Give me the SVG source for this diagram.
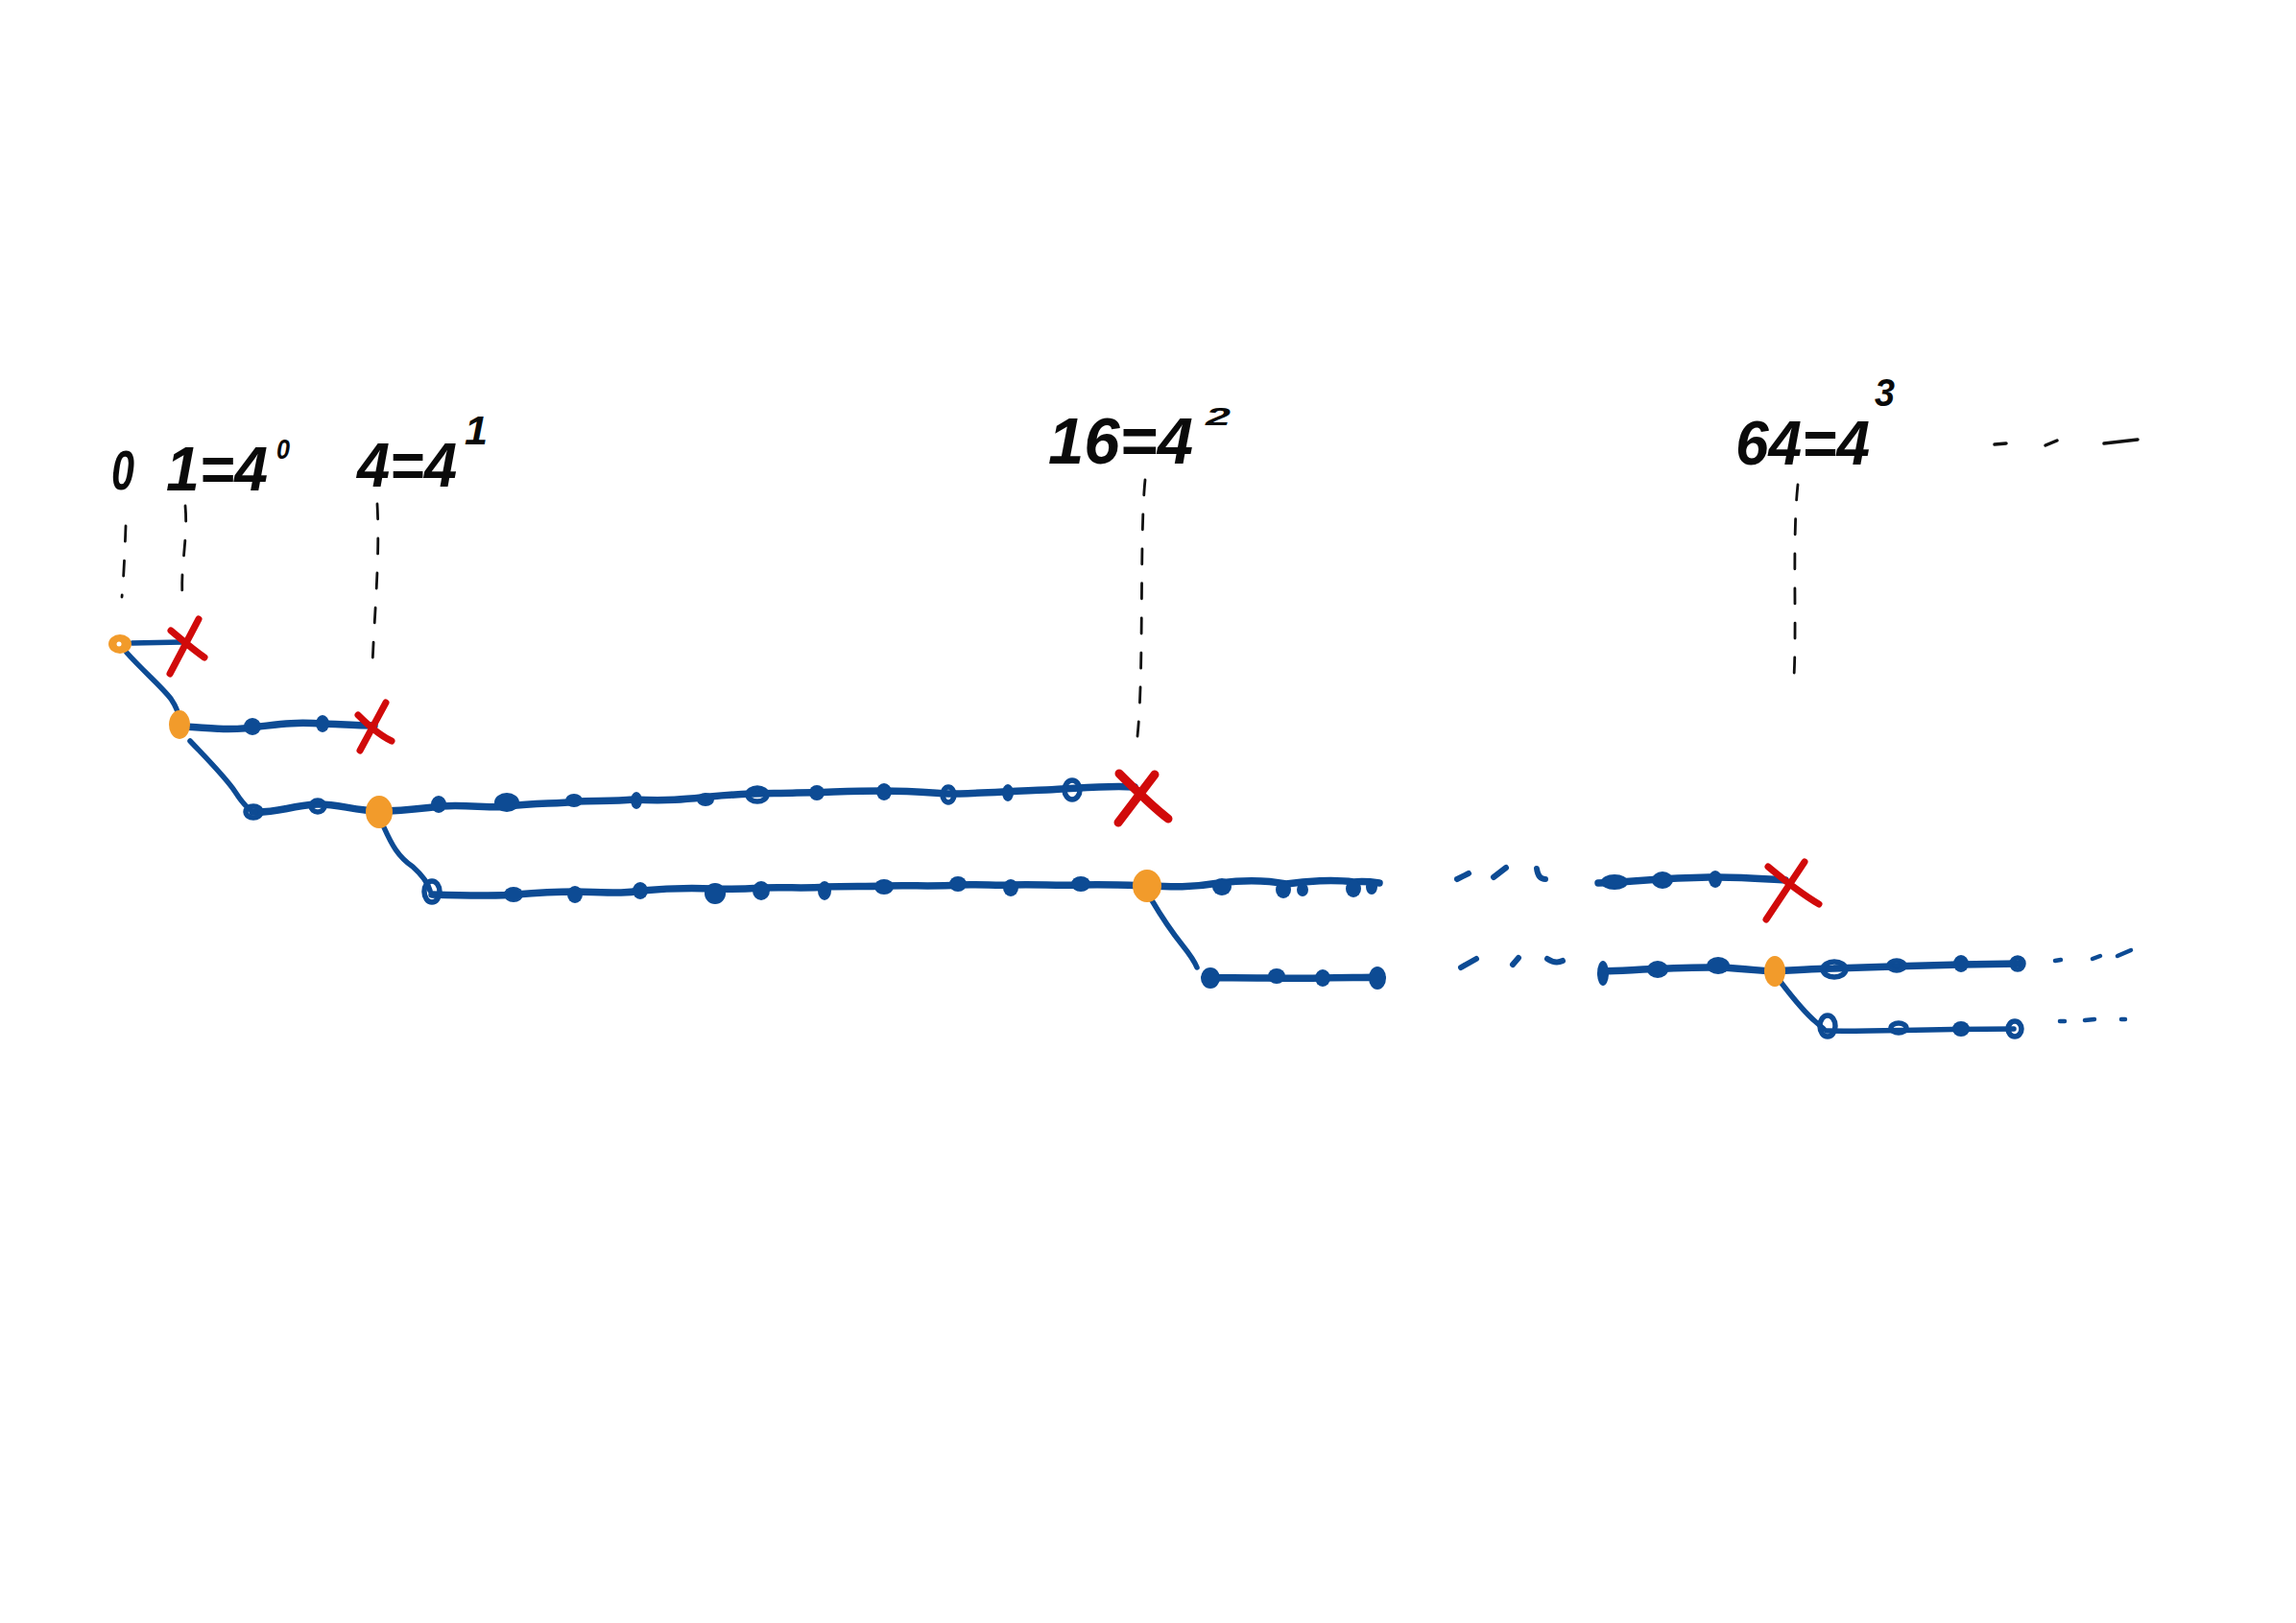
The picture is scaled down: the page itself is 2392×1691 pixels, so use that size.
<svg xmlns="http://www.w3.org/2000/svg" width="2392" height="1691" viewBox="0 0 2392 1691">
<style>
.bg{fill:#ffffff}
.ln{fill:none;stroke:#0d4b94;stroke-width:7.5;stroke-linecap:round;stroke-linejoin:round}
.thin{stroke-width:5.5}
.dot{fill:#0d4b94}
.loop{fill:none;stroke:#0d4b94;stroke-width:5.5}
.mark{fill:none;stroke:#0d4b94;stroke-width:6;stroke-linecap:round}
.org{fill:#f29b2b}
.x{fill:none;stroke:#d10a0a;stroke-width:7;stroke-linecap:round}
.guide{fill:none;stroke:#111111;stroke-width:2.8;stroke-dasharray:16 20;stroke-linecap:round}
.dash{fill:none;stroke:#111111;stroke-width:3.5;stroke-linecap:round}
.lbl{font-family:"Liberation Sans",Arial,sans-serif;fill:#0a0a0a;font-style:italic;font-weight:bold}
</style>
<rect class="bg" x="0" y="0" width="2392" height="1691"/>

<g id="labels">
  <text id="label-0" class="lbl" x="116" y="510" font-size="58" textLength="24" lengthAdjust="spacingAndGlyphs">0</text>
  <text id="label-1" class="lbl"><tspan x="173" y="511" font-size="64" textLength="106" lengthAdjust="spacingAndGlyphs">1=4</tspan><tspan x="288" y="478" font-size="30" textLength="14" lengthAdjust="spacingAndGlyphs">0</tspan></text>
  <text id="label-4" class="lbl"><tspan x="372" y="507" font-size="64" textLength="104" lengthAdjust="spacingAndGlyphs">4=4</tspan><tspan x="484" y="463" font-size="42" textLength="24" lengthAdjust="spacingAndGlyphs">1</tspan></text>
  <text id="label-16" class="lbl"><tspan x="1092" y="483" font-size="68" textLength="151" lengthAdjust="spacingAndGlyphs">16=4</tspan><tspan x="1256" y="443" font-size="26" textLength="26" lengthAdjust="spacingAndGlyphs">2</tspan></text>
  <text id="label-64" class="lbl"><tspan x="1808" y="484" font-size="64" textLength="140" lengthAdjust="spacingAndGlyphs">64=4</tspan><tspan x="1953" y="423" font-size="40" textLength="21" lengthAdjust="spacingAndGlyphs">3</tspan></text>
  <g id="label-more">
    <path class="dash" d="M2078 463 L2090 462"/>
    <path class="dash" d="M2131 464 L2143 459"/>
    <path class="dash" d="M2192 462 L2227 458"/>
  </g>
</g>

<g id="guides">
  <path class="guide" d="M131 548 C130 575 129 600 127 622"/>
  <path class="guide" d="M193 527 C196 560 188 590 190 620"/>
  <path class="guide" d="M393 525 C396 580 390 640 388 693"/>
  <path class="guide" d="M1193 500 C1187 560 1192 700 1185 767"/>
  <path class="guide" d="M1873 505 C1867 560 1872 650 1869 705"/>
</g>

<g id="connectors">
  <!-- row 0 -->
  <path class="ln thin" d="M138 670 L190 669"/>
  <path class="ln thin" d="M132 680 C150 700 168 715 178 728 C184 737 186 742 186 748"/>
  <!-- row 1 -->
  <path class="ln" d="M192 757 C220 759 240 761 262 758 C290 755 300 752 337 754 C360 755 375 756 390 756"/>
  <path class="ln thin" d="M198 772 C215 790 235 810 245 825 C252 836 256 840 260 843"/>
  <!-- row 2 -->
  <path class="ln" d="M263 846 C290 847 300 840 330 838 C350 837 370 845 395 845"/>
  <path class="ln" d="M395 845 C420 845 440 842 460 840 C490 838 510 843 530 840 C560 836 580 838 600 835 C620 834 640 835 660 833 C700 835 720 832 740 830 C780 826 800 827 830 826 C860 826 880 824 920 824 C960 824 990 828 1000 827 C1030 826 1060 824 1090 823 C1120 822 1150 818 1182 820"/>
  <path class="ln thin" d="M400 862 C408 880 415 893 430 903 C440 912 446 920 448 928"/>
  <!-- row 3 -->
  <path class="ln" d="M450 932 C480 933 510 934 537 932 C560 930 580 929 600 929 C640 930 650 931 668 928 C700 925 720 925 744 926 C770 927 780 926 793 925 C820 924 840 926 859 924 C890 923 900 924 921 923 C950 922 970 924 998 922 C1020 921 1040 923 1053 922 C1080 921 1100 923 1124 922 C1150 921 1170 922 1195 923"/>
  <path class="ln" d="M1195 923 C1220 924 1240 925 1270 920 C1300 916 1320 917 1340 921 C1360 918 1390 916 1410 919 C1420 918 1430 919 1437 920"/>
  <path class="ln thin" d="M1200 938 C1210 955 1220 970 1232 985 C1240 995 1245 1003 1247 1008"/>
  <!-- row 4 left -->
  <path class="ln" d="M1258 1019 C1300 1018 1340 1020 1378 1019 C1400 1018 1420 1019 1437 1018"/>
  <!-- gap marks -->
  <path class="mark" d="M1518 916 L1530 910"/>
  <path class="mark" d="M1556 914 L1569 904"/>
  <path class="mark" d="M1601 905 C1602 913 1605 916 1610 916"/>
  <path class="mark" d="M1522 1008 L1538 999"/>
  <path class="mark" d="M1576 1005 L1582 998"/>
  <path class="mark" d="M1612 999 C1618 1003 1624 1003 1628 1001"/>
  <!-- row 3 right -->
  <path class="ln" d="M1665 920 C1700 919 1740 914 1790 914 C1820 914 1840 916 1860 917"/>
  <!-- row 4 right -->
  <path class="ln" d="M1670 1012 C1700 1011 1740 1008 1790 1008 C1820 1009 1835 1012 1848 1012 C1880 1010 1900 1009 1910 1009 C1950 1008 2000 1006 2043 1005 L2104 1004"/>
  <path class="ln thin" d="M1855 1023 C1868 1040 1880 1055 1892 1065 L1900 1072"/>
  <!-- row 5 -->
  <path class="ln thin" d="M1903 1074 C1950 1075 2000 1072 2098 1072"/>
  <!-- trailing -->
  <path class="mark" style="stroke-width:4.5" d="M2141 1001 L2147 1000"/>
  <path class="mark" style="stroke-width:4.5" d="M2180 999 L2188 996"/>
  <path class="mark" style="stroke-width:4.5" d="M2206 996 L2220 990"/>
  <path class="mark" style="stroke-width:4.5" d="M2146 1064 L2151 1064"/>
  <path class="mark" style="stroke-width:4.5" d="M2172 1063 L2182 1062"/>
  <path class="mark" style="stroke-width:4.5" d="M2210 1062 L2214 1062"/>
</g>

<g id="beads">
  <!-- row 1 -->
  <ellipse class="dot" cx="263" cy="757" rx="9" ry="9"/>
  <ellipse class="dot" cx="336" cy="754" rx="7" ry="9"/>
  <!-- row 2 -->
  <ellipse class="loop" cx="264" cy="846" rx="8" ry="6"/>
  <ellipse class="loop" cx="331" cy="840" rx="7" ry="6"/>
  <ellipse class="dot" cx="457" cy="838" rx="8" ry="9"/>
  <ellipse class="dot" cx="528" cy="836" rx="13" ry="10"/>
  <ellipse class="dot" cx="598" cy="834" rx="9" ry="7"/>
  <ellipse class="dot" cx="663" cy="834" rx="6" ry="9"/>
  <ellipse class="dot" cx="735" cy="833" rx="9" ry="7"/>
  <ellipse class="loop" cx="789" cy="828" rx="10" ry="7"/>
  <ellipse class="dot" cx="851" cy="826" rx="8" ry="8"/>
  <ellipse class="dot" cx="921" cy="825" rx="8" ry="9"/>
  <ellipse class="loop" cx="988" cy="828" rx="6" ry="8"/>
  <ellipse class="dot" cx="1050" cy="826" rx="6" ry="9"/>
  <ellipse class="loop" cx="1117" cy="823" rx="8" ry="10"/>
  <!-- row 3 -->
  <ellipse class="loop" cx="450" cy="929" rx="8" ry="11"/>
  <ellipse class="dot" cx="535" cy="932" rx="10" ry="8"/>
  <ellipse class="dot" cx="599" cy="932" rx="8" ry="9"/>
  <ellipse class="dot" cx="667" cy="928" rx="8" ry="9"/>
  <ellipse class="dot" cx="745" cy="931" rx="11" ry="11"/>
  <ellipse class="dot" cx="793" cy="928" rx="9" ry="10"/>
  <ellipse class="dot" cx="859" cy="928" rx="7" ry="10"/>
  <ellipse class="dot" cx="921" cy="924" rx="10" ry="8"/>
  <ellipse class="dot" cx="998" cy="921" rx="9" ry="8"/>
  <ellipse class="dot" cx="1053" cy="925" rx="8" ry="9"/>
  <ellipse class="dot" cx="1126" cy="921" rx="10" ry="8"/>
  <ellipse class="dot" cx="1273" cy="924" rx="10" ry="9"/>
  <ellipse class="dot" cx="1337" cy="927" rx="8" ry="9"/>
  <ellipse class="dot" cx="1357" cy="927" rx="6" ry="7"/>
  <ellipse class="dot" cx="1410" cy="926" rx="8" ry="9"/>
  <ellipse class="dot" cx="1429" cy="924" rx="6" ry="8"/>
  <!-- row 4 left -->
  <ellipse class="dot" cx="1261" cy="1019" rx="10" ry="11"/>
  <ellipse class="dot" cx="1330" cy="1017" rx="9" ry="8"/>
  <ellipse class="dot" cx="1378" cy="1019" rx="8" ry="9"/>
  <ellipse class="dot" cx="1435" cy="1019" rx="9" ry="12"/>
  <!-- row 3 right -->
  <ellipse class="dot" cx="1682" cy="919" rx="14" ry="8"/>
  <ellipse class="dot" cx="1732" cy="917" rx="11" ry="9"/>
  <ellipse class="dot" cx="1787" cy="916" rx="7" ry="9"/>
  <!-- row 4 right -->
  <ellipse class="dot" cx="1670" cy="1014" rx="6" ry="13"/>
  <ellipse class="dot" cx="1727" cy="1010" rx="11" ry="9"/>
  <ellipse class="dot" cx="1790" cy="1006" rx="12" ry="9"/>
  <ellipse class="loop" cx="1911" cy="1010" rx="12" ry="8"/>
  <ellipse class="loop" cx="1976" cy="1006" rx="8" ry="5"/>
  <ellipse class="dot" cx="2043" cy="1004" rx="8" ry="9"/>
  <ellipse class="loop" cx="2102" cy="1004" rx="6" ry="6"/>
  <!-- row 5 -->
  <ellipse class="loop" cx="1904" cy="1069" rx="8" ry="11"/>
  <ellipse class="loop" cx="1978" cy="1071" rx="8" ry="5"/>
  <ellipse class="dot" cx="2043" cy="1072" rx="9" ry="8"/>
  <ellipse class="loop" cx="2099" cy="1072" rx="7" ry="8"/>
</g>

<g id="node-0"><ellipse class="org" cx="125" cy="671" rx="12" ry="10"/><circle cx="124" cy="671" r="2.5" fill="#fff"/></g>
<g id="node-1"><ellipse class="org" cx="187" cy="755" rx="11" ry="15"/></g>
<g id="node-4"><ellipse class="org" cx="395" cy="846" rx="14" ry="17"/></g>
<g id="node-16"><ellipse class="org" cx="1195" cy="923" rx="15" ry="17"/></g>
<g id="node-64"><ellipse class="org" cx="1849" cy="1012" rx="11" ry="16"/></g>

<g id="cross-1"><path class="x" d="M207 645 L177 702 M178 657 C190 667 200 676 213 685"/></g>
<g id="cross-4"><path class="x" d="M402 732 L375 782 M373 745 C385 757 395 766 408 772"/></g>
<g id="cross-16"><path class="x" style="stroke-width:9" d="M1203 807 L1165 857 M1166 806 C1185 825 1200 840 1217 853"/></g>
<g id="cross-64"><path class="x" d="M1880 898 L1840 958 M1842 903 C1860 918 1878 932 1895 942"/></g>
</svg>
